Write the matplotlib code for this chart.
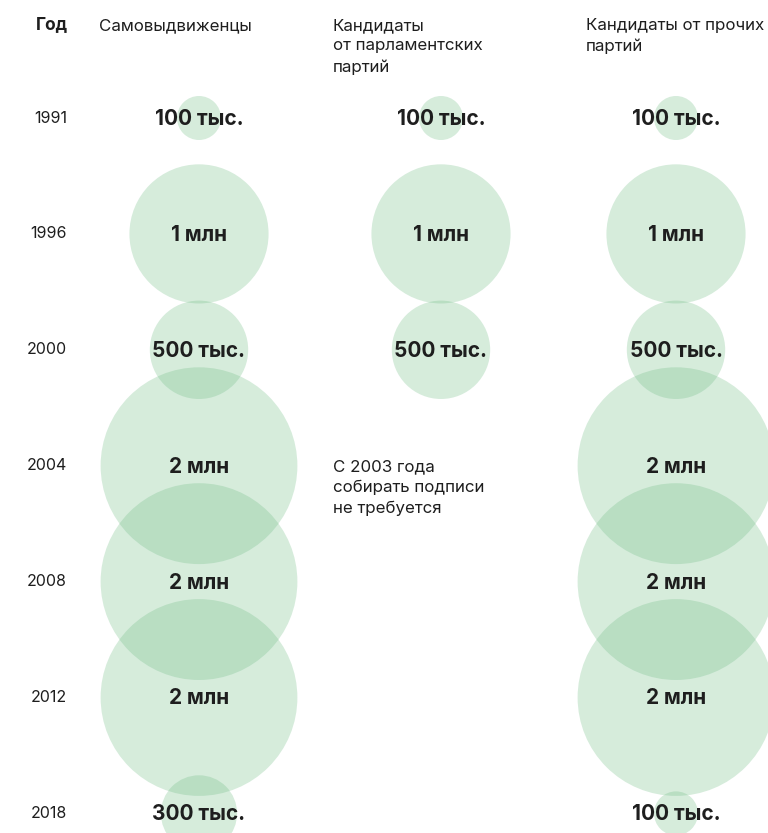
import matplotlib.pyplot as plt
from matplotlib.patches import Circle

years = ["1991", "1996", "2000", "2004", "2008", "2012", "2018"]
headers = ["Самовыдвиженцы", "Кандидаты\nот парламентских\nпартий", "Кандидаты от прочих\nпартий"]
# signatures required, thousands (None = not required)
self_nominated = [100, 1000, 500, 2000, 2000, 2000, 300]
parliament = [100, 1000, 500, None, None, None, None]
other_parties = [100, 1000, 500, 2000, 2000, 2000, 100]
note = "С 2003 года\nсобирать подписи\nне требуется"

series = [self_nominated, parliament, other_parties]

plt.rcParams['font.family'] = ['Inter', 'DejaVu Sans']

fig = plt.figure(figsize=(7.68, 8.33), dpi=100)
ax = fig.add_axes([0, 0, 1, 1])
ax.set_xlim(0, 768)
ax.set_ylim(833, 0)
ax.set_aspect('equal')
ax.axis('off')

col_x = [199, 441, 676]
row_y0, row_step = 118, 115.9
base_r = 22  # radius of 100 thousand

def fmt(v):
    if v >= 1000:
        return f"{v // 1000} млн"
    return f"{v} тыс."

green = (114/255, 190/255, 134/255)
text_col = "#1e1e1e"

for j, vals in enumerate(series):
    for i, v in enumerate(vals):
        if v is None:
            continue
        y = row_y0 + i * row_step
        r = base_r * (v / 100) ** 0.5
        ax.add_patch(Circle((col_x[j], y), r, facecolor=green, alpha=0.29,
                            edgecolor='none', zorder=1))
        ax.text(col_x[j], y + 1, fmt(v), ha='center', va='center', fontsize=15,
                fontweight='bold', color=text_col, zorder=3)

for i, yr in enumerate(years):
    ax.text(67, row_y0 + i * row_step, yr, ha='right', va='center',
            fontsize=11.5, color=text_col)

ax.text(68, 25, "Год", ha='right', va='center', fontsize=12.5,
        fontweight='bold', color=text_col)
header_x = [99, 333, 586]
for hx, h in zip(header_x, headers):
    ax.text(hx, 18, h, ha='left', va='top', fontsize=12.2, color=text_col,
            linespacing=1.45)

ax.text(333, 459, note, ha='left', va='top', fontsize=12.2, color=text_col,
        linespacing=1.45)

fig.savefig("out.png", dpi=100)
